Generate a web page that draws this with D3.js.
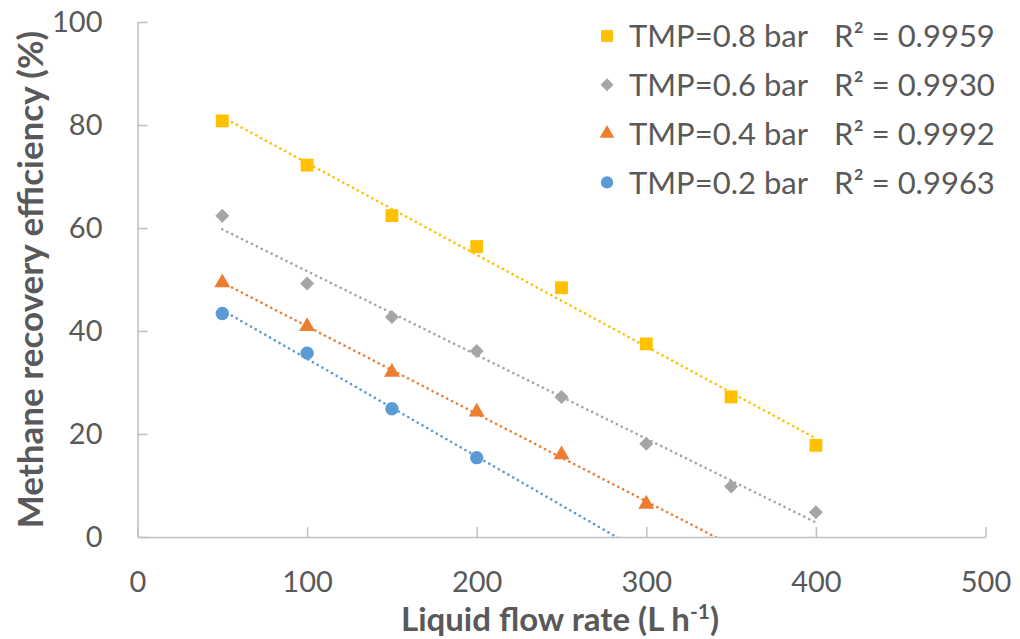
<!DOCTYPE html>
<html>
<head>
<meta charset="utf-8">
<script src="https://cdn.jsdelivr.net/npm/d3@7"></script>
<style>
  body{margin:0;background:#fff;}
  svg text{font-family:Lato, "Open Sans", sans-serif;fill:#595959;}
</style>
</head>
<body>
<div id="myPlot"></div>
<script>
const flowRates = [50, 100, 150, 200, 250, 300, 350, 400];
const tmp08 = [80.8, 72.2, 62.4, 56.4, 48.4, 37.5, 27.2, 17.8];
const tmp06 = [62.4, 49.2, 42.7, 36.1, 27.2, 18.1, 9.8, 4.8];
const tmp04 = [49.4, 40.9, 32.0, 24.3, 16.0, 6.4];
const tmp02 = [43.4, 35.7, 24.9, 15.4];
const seriesNames = ["TMP=0.8 bar", "TMP=0.6 bar", "TMP=0.4 bar", "TMP=0.2 bar"];
const r2Labels = ["0.9959", "0.9930", "0.9992", "0.9963"];
const trendEnds = [400, 400, 350, 300];
const xTicks = [0, 100, 200, 300, 400, 500];
const yTicks = [0, 20, 40, 60, 80, 100];

const chartXSize = 1020;
const chartYSize = 639;

// diamond = square turned 45 degrees (d3's own diamond is too narrow)
const series = [
  {name: seriesNames[0], values: tmp08, color: "#FFC000", shape: d3.symbolSquare, size: 165, rot: 0, r2: r2Labels[0], end: trendEnds[0]},
  {name: seriesNames[1], values: tmp06, color: "#A5A5A5", shape: d3.symbolSquare, size: 98, rot: 45, r2: r2Labels[1], end: trendEnds[1]},
  {name: seriesNames[2], values: tmp04, color: "#ED7D31", shape: d3.symbolTriangle, size: 110, rot: 0, r2: r2Labels[2], end: trendEnds[2]},
  {name: seriesNames[3], values: tmp02, color: "#5B9BD5", shape: d3.symbolCircle, size: 140, rot: 0, r2: r2Labels[3], end: trendEnds[3]}
];

const svg = d3.select("#myPlot").append("svg")
  .attr("width", chartXSize)
  .attr("height", chartYSize);

const x = d3.scaleLinear().domain([0, 500]).range([137.5, 985.5]);
const y = d3.scaleLinear().domain([0, 100]).range([537, 22]);

svg.append("defs").append("clipPath").attr("id", "plotClip")
  .append("rect")
  .attr("x", x(0)).attr("y", y(100))
  .attr("width", x(500) - x(0)).attr("height", y(0) - y(100));

// axes, ticks point inward like the original
const xAxis = svg.append("g")
  .attr("transform", "translate(0," + y(0) + ")")
  .call(d3.axisBottom(x).tickValues(xTicks).tickSizeInner(-10).tickSizeOuter(0).tickPadding(34));
const yAxis = svg.append("g")
  .attr("transform", "translate(" + x(0) + ",0)")
  .call(d3.axisLeft(y).tickValues(yTicks).tickSizeInner(-10).tickSizeOuter(0).tickPadding(35));

[xAxis, yAxis].forEach(a => {
  a.select(".domain").attr("stroke", "#BFBFBF").attr("stroke-width", 1.5);
  a.selectAll(".tick line").attr("stroke", "#BFBFBF").attr("stroke-width", 1.5);
  a.selectAll(".tick text").attr("fill", "#595959").style("font-size", "29px").style("font-family", "Lato");
});

// linear trendlines (least squares) from each series
function fit(values){
  const xs = flowRates.slice(0, values.length);
  const mx = d3.mean(xs), my = d3.mean(values);
  let num = 0, den = 0;
  xs.forEach((v, i) => { num += (v - mx) * (values[i] - my); den += (v - mx) * (v - mx); });
  const slope = num / den;
  return {slope: slope, intercept: my - slope * mx};
}

const trendG = svg.append("g").attr("clip-path", "url(#plotClip)");
series.forEach(s => {
  const f = fit(s.values);
  const pts = [50, s.end].map(v => [v, f.intercept + f.slope * v]);
  trendG.append("path")
    .attr("d", d3.line().x(d => x(d[0])).y(d => y(d[1]))(pts))
    .attr("fill", "none")
    .attr("stroke", s.color)
    .attr("stroke-width", 2.6)
    .attr("stroke-linecap", "round")
    .attr("stroke-dasharray", "0.1,5.4");
});

series.slice().reverse().forEach(s => {
  svg.append("g").selectAll("path")
    .data(s.values)
    .enter()
    .append("path")
    .attr("transform", (d, i) => "translate(" + x(flowRates[i]) + "," + y(d) + ") rotate(" + s.rot + ")")
    .attr("d", d3.symbol().type(s.shape).size(s.size))
    .attr("fill", s.color);
});

// legend
const legend = svg.append("g");
series.forEach((s, i) => {
  const cy = 36 + i * 48.8;
  legend.append("path")
    .attr("transform", "translate(607," + cy + ") rotate(" + s.rot + ")")
    .attr("d", d3.symbol().type(s.shape).size(s.size * 0.85))
    .attr("fill", s.color);
  legend.append("text")
    .attr("x", 629)
    .attr("y", cy)
    .attr("dy", "0.36em")
    .style("font-size", "31px")
    .text(s.name);
  legend.append("text")
    .attr("x", 834)
    .attr("y", cy)
    .attr("dy", "0.36em")
    .style("font-size", "31px")
    .text("R² = " + s.r2);
});

svg.append("text")
  .attr("transform", "translate(43," + ((y(0) + y(100)) / 2) + ") rotate(-90)")
  .attr("text-anchor", "middle")
  .style("font-size", "35px")
  .style("font-weight", "bold")
  .text("Methane recovery efficiency (%)");

const xTitle = svg.append("text")
  .attr("x", 560)
  .attr("y", 631)
  .attr("text-anchor", "middle")
  .style("font-size", "33px")
  .style("font-weight", "bold");
xTitle.append("tspan").text("Liquid flow rate (L h");
xTitle.append("tspan").attr("dy", -12).style("font-size", "21px").text("-1");
xTitle.append("tspan").attr("dy", 12).text(")");
</script>
</body>
</html>
